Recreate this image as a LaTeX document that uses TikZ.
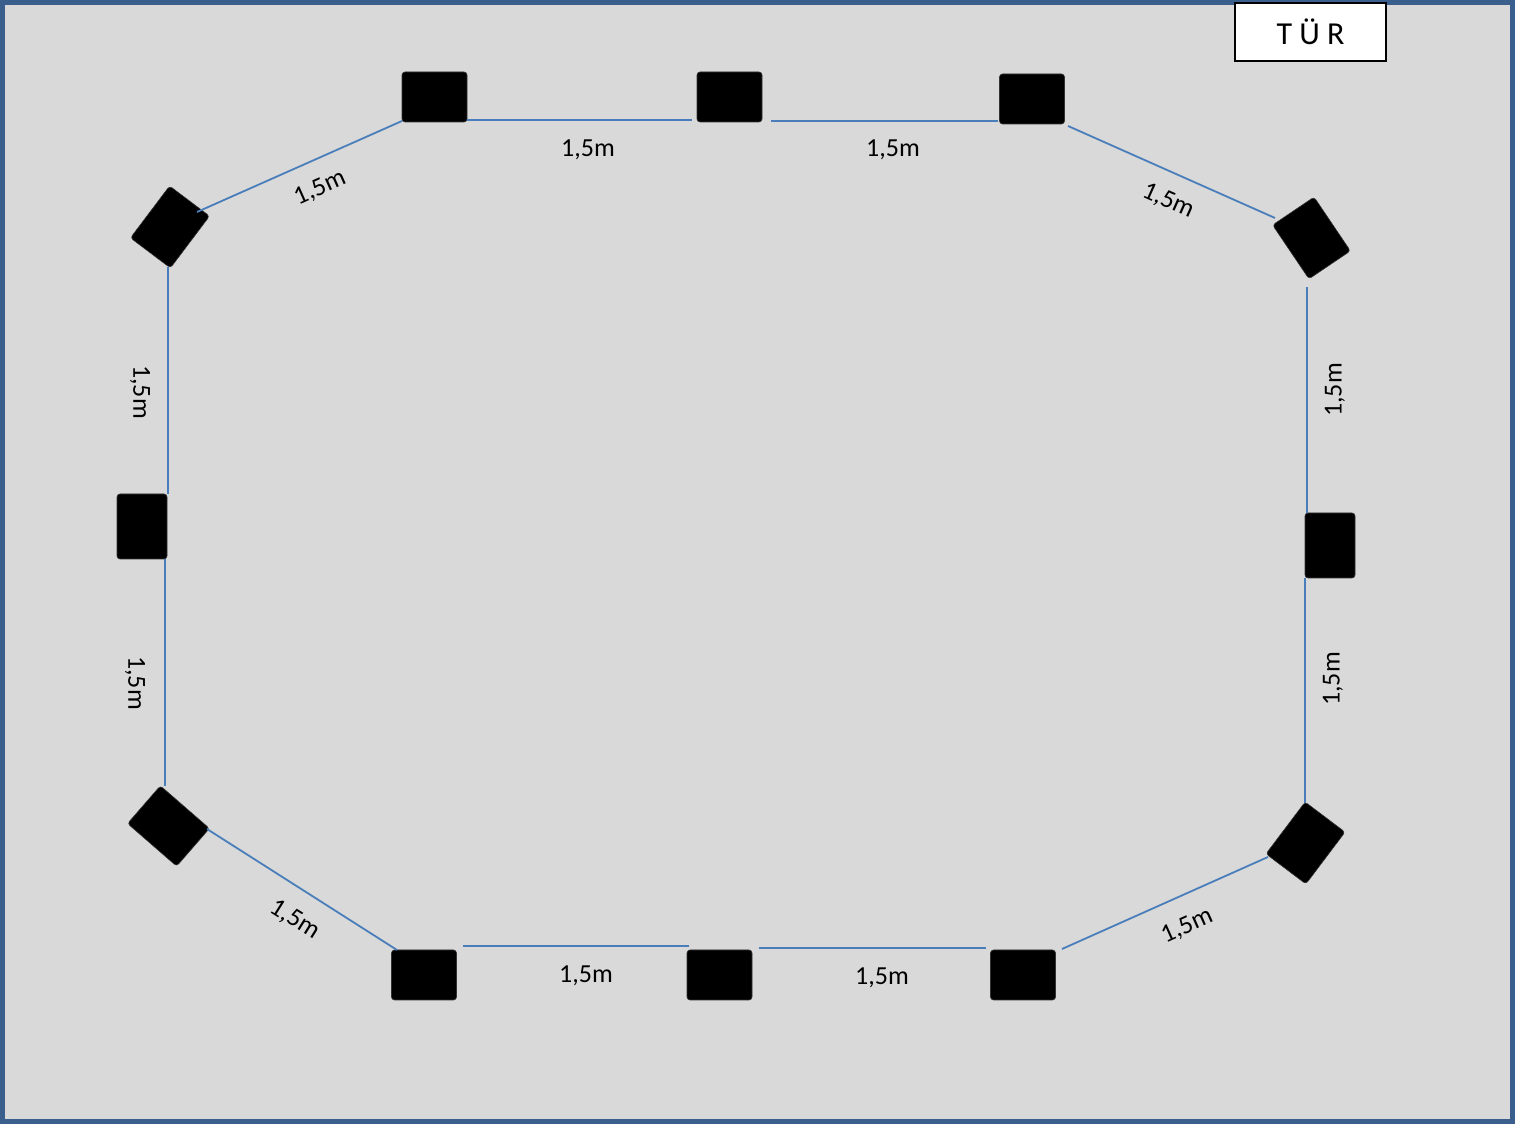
\documentclass[tikz,border=0pt]{standalone}
\usepackage{fontspec}
\setmainfont{Carlito}
\definecolor{bgc}{HTML}{D9D9D9}
\definecolor{framec}{HTML}{3A5F8C}
\definecolor{linec}{HTML}{4A7EBB}
\begin{document}
\begin{tikzpicture}[x=1pt,y=1pt,
  blk/.style={fill=black,draw=black!80,line width=0.6pt,rounded corners=3pt,minimum width=65pt,minimum height=50pt,inner sep=0pt},
  blkv/.style={blk,minimum width=50pt,minimum height=65pt},
  conn/.style={draw=linec,line width=1.8pt},
  lbl/.style={font=\fontsize{26}{28}\selectfont,inner sep=0pt}]
\useasboundingbox (0,0) rectangle (1516,1124);
\draw[fill=bgc,draw=framec,line width=5pt] (2.5,2.5) rectangle (1512,1121.5);
% door
\node[draw=black,line width=1.8pt,fill=white,minimum width=151pt,minimum height=58pt,inner sep=0pt,font=\fontsize{32}{34}\selectfont] (tur) at (1310.5,1092) {T Ü R};
% boxes
\node[blk] (b1) at (434.5,1027) {};
\node[blk] (b2) at (729.5,1027) {};
\node[blk] (b3) at (1032,1025) {};
\node[blk] (b4) at (424,149) {};
\node[blk] (b5) at (719.5,149) {};
\node[blk] (b6) at (1023,149) {};
\node[blkv] (b7) at (142,597.5) {};
\node[blkv] (b8) at (1330,578.5) {};
\node[blk,rotate=53] (tl) at (170,897) {};
\node[blk,rotate=-56] (tr) at (1311.5,886) {};
\node[blk,rotate=-41] (bl) at (168.5,298) {};
\node[blk,rotate=53] (br) at (1305.5,281) {};
% connector ends
\coordinate (t1a) at (467,1004); \coordinate (t1b) at (692,1004);
\coordinate (t2a) at (771,1003); \coordinate (t2b) at (998,1003);
\coordinate (tra) at (1068,998); \coordinate (trb) at (1275,906);
\coordinate (tla) at (197,912); \coordinate (tlb) at (402,1003);
\coordinate (l1a) at (168,857); \coordinate (l1b) at (168,630);
\coordinate (l2a) at (165,565); \coordinate (l2b) at (165,338);
\coordinate (bla) at (207,295); \coordinate (blb) at (397,174);
\coordinate (d1a) at (463,178); \coordinate (d1b) at (689,178);
\coordinate (d2a) at (759,176); \coordinate (d2b) at (986,176);
\coordinate (bra) at (1062,175); \coordinate (brb) at (1268,267);
\coordinate (r1a) at (1307,837); \coordinate (r1b) at (1307,611);
\coordinate (r2a) at (1305,546); \coordinate (r2b) at (1305,321);
\draw[conn] (t1a) -- (t1b);
\draw[conn] (t2a) -- (t2b);
\draw[conn] (tra) -- (trb);
\draw[conn] (tla) -- (tlb);
\draw[conn] (l1a) -- (l1b);
\draw[conn] (l2a) -- (l2b);
\draw[conn] (bla) -- (blb);
\draw[conn] (d1a) -- (d1b);
\draw[conn] (d2a) -- (d2b);
\draw[conn] (bra) -- (brb);
\draw[conn] (r1a) -- (r1b);
\draw[conn] (r2a) -- (r2b);
% labels
\node[lbl] (lb1) at (588,974) {1,5m};
\node[lbl] (lb2) at (893,974) {1,5m};
\node[lbl,rotate=24] (lb3) at (320,936) {1,5m};
\node[lbl,rotate=-24] (lb4) at (1168,923) {1,5m};
\node[lbl,rotate=-90] (lb5) at (140,732) {1,5m};
\node[lbl,rotate=-90] (lb6) at (135,441) {1,5m};
\node[lbl,rotate=90] (lb7) at (1335,734) {1,5m};
\node[lbl,rotate=90] (lb8) at (1333,445) {1,5m};
\node[lbl,rotate=-32] (lb9) at (295,204) {1,5m};
\node[lbl] (lb10) at (586,148) {1,5m};
\node[lbl] (lb11) at (882,146) {1,5m};
\node[lbl,rotate=24] (lb12) at (1187,198) {1,5m};
\end{tikzpicture}
\end{document}
